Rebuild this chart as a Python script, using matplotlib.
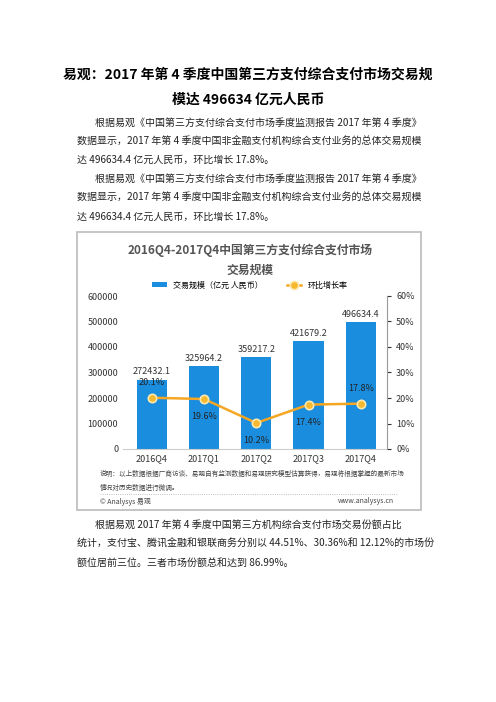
import matplotlib
matplotlib.use("Agg")
import matplotlib.pyplot as plt
from matplotlib.ticker import FuncFormatter

plt.rcParams['font.family'] = ['Noto Sans CJK SC', 'DejaVu Sans']

quarters = ["2016Q4", "2017Q1", "2017Q2", "2017Q3", "2017Q4"]
volume = [272432.1, 325964.2, 359217.2, 421679.2, 496634.4]
growth = [20.1, 19.6, 10.2, 17.4, 17.8]

fig = plt.figure(figsize=(4.96, 7.02), dpi=100)
W, H = 496, 702
def t(x, y, s, **kw):
    fig.text(x / W, 1 - y / H, s, va='center', **kw)

t(248, 75, "易观：2017 年第 4 季度中国第三方支付综合支付市场交易规", ha='center', fontsize=10, fontweight='bold')
t(248, 100, "模达 496634 亿元人民币", ha='center', fontsize=10, fontweight='bold')
body = [
    (95, 123, "根据易观《中国第三方支付综合支付市场季度监测报告 2017 年第 4 季度》"),
    (77, 142, "数据显示，2017 年第 4 季度中国非金融支付机构综合支付业务的总体交易规模"),
    (77, 160, "达 496634.4 亿元人民币，环比增长 17.8%。"),
    (95, 179, "根据易观《中国第三方支付综合支付市场季度监测报告 2017 年第 4 季度》"),
    (77, 198, "数据显示，2017 年第 4 季度中国非金融支付机构综合支付业务的总体交易规模"),
    (77, 217, "达 496634.4 亿元人民币，环比增长 17.8%。"),
    (95, 525, "根据易观 2017 年第 4 季度中国第三方机构综合支付市场交易份额占比"),
    (77, 544, "统计，支付宝、腾讯金融和银联商务分别以 44.51%、30.36%和 12.12%的市场份"),
    (77, 563, "额位居前三位。三者市场份额总和达到 86.99%。"),
]
for x, y, s in body:
    t(x, y, s, ha='left', fontsize=7.2, color='#222222')

# chart frame
fig.add_artist(plt.Rectangle((77 / W, 1 - 510 / H), 344 / W, 278 / H, fill=False, ec='#bbbbbb', lw=1.2))

t(250, 250, "2016Q4-2017Q4中国第三方支付综合支付市场", ha='center', fontsize=8.5, fontweight='bold', color='#555555')
t(250, 270, "交易规模", ha='center', fontsize=8.5, fontweight='bold', color='#555555')

ax = fig.add_axes([123 / W, 1 - 449 / H, 264 / W, 153 / H])
x = range(len(quarters))
ax.bar(x, volume, width=0.58, color='#1a8ddf', label='交易规模（亿元 人民币）')
ax.set_ylim(0, 600000)
ax.set_xlim(-0.55, 4.5)
ax.set_yticks(range(0, 600001, 100000))
ax.tick_params(axis='y', labelsize=6.5, length=0, colors='#333333')
ax.set_xticks(list(x))
ax.set_xticklabels(quarters, fontsize=6.5, color='#333333')
ax.tick_params(axis='x', length=0)
for s in ax.spines.values():
    s.set_visible(False)
ax.spines['bottom'].set_visible(True)
ax.spines['bottom'].set_color('#cccccc')
for i, v in enumerate(volume):
    ax.text(i, v + 12000, f"{v:.1f}", ha='center', va='bottom', fontsize=6.5, color='#333333')

ax2 = ax.twinx()
ax2.plot(x, growth, color='#f5a623', lw=1.8, marker='o', ms=6, mfc='#f5b82e', mec='#fde9b0', mew=1.2, label='环比增长率')
ax2.set_ylim(0, 60)
ax2.set_yticks(range(0, 61, 10))
ax2.yaxis.set_major_formatter(FuncFormatter(lambda v, p: f"{v:.0f}%"))
ax2.tick_params(axis='y', labelsize=6.5, length=3, colors='#333333')
for s in ax2.spines.values():
    s.set_visible(False)
ax2.spines['right'].set_visible(True)
ax2.spines['right'].set_color('#999999')
offs = [6, -7, -7, -7, 6]
for i, g in enumerate(growth):
    ax2.text(i, g + offs[i], f"{g}%", ha='center', va='center', fontsize=6.5, color='#222222')

h1, l1 = ax.get_legend_handles_labels()
h2, l2 = ax2.get_legend_handles_labels()
fig.legend(h1 + h2, l1 + l2, loc='center', bbox_to_anchor=(250 / W, 1 - 285 / H), ncol=2,
           frameon=False, fontsize=5.8, handlelength=1.8, columnspacing=3, handleheight=0.5)

t(100, 474, "说明：以上数据根据厂商访谈、易观自有监测数据和易观研究模型估算获得，易观将根据掌握的最新市场", ha='left', fontsize=4.8, color='#444444')
t(100, 488, "情况对历史数据进行微调。", ha='left', fontsize=4.8, color='#444444')
fig.add_artist(plt.Line2D([100 / W, 398 / W], [1 - 494 / H] * 2, color='#aaaaaa', lw=0.6, ls=':'))
t(100, 502, "© Analysys 易观", ha='left', fontsize=5, color='#444444')
t(394, 501, "www.analysys.cn", ha='right', fontsize=5, color='#444444')

fig.savefig("out.png", dpi=100, facecolor='white')
